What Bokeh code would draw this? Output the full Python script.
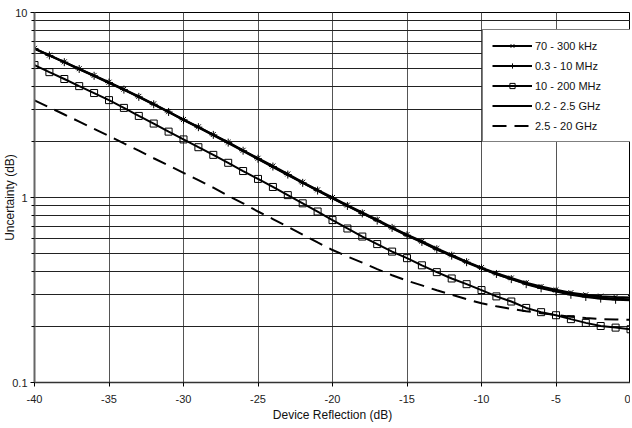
from bokeh.plotting import figure
from bokeh.models import FixedTicker, Legend, LegendItem
from bokeh.embed import file_html
from bokeh.resources import INLINE

# ---- data ----
reflection_db = list(range(-40, 1))  # device reflection, dB, 1 dB steps

khz_70_300 = [6.40, 5.88, 5.41, 4.97, 4.57, 4.20, 3.85, 3.52, 3.21, 2.91,
              2.64, 2.41, 2.19, 1.99, 1.80, 1.63, 1.48, 1.34, 1.21, 1.10,
              1.00, 0.91, 0.83, 0.76, 0.69, 0.63, 0.58, 0.53, 0.49, 0.45,
              0.418, 0.390, 0.367, 0.346, 0.330, 0.317, 0.306, 0.298, 0.293, 0.290,
              0.288]
mhz_03_10 = [6.38, 5.86, 5.39, 4.95, 4.55, 4.18, 3.83, 3.50, 3.19, 2.90,
             2.63, 2.40, 2.18, 1.98, 1.79, 1.62, 1.47, 1.33, 1.20, 1.09,
             0.99, 0.90, 0.82, 0.75, 0.685, 0.625, 0.575, 0.525, 0.485, 0.447,
             0.415, 0.386, 0.362, 0.340, 0.323, 0.310, 0.298, 0.290, 0.284, 0.280,
             0.278]
mhz_10_200 = [5.20, 4.76, 4.37, 4.00, 3.67, 3.36, 3.05, 2.76, 2.51, 2.27,
              2.06, 1.87, 1.70, 1.54, 1.39, 1.26, 1.14, 1.03, 0.93, 0.84,
              0.755, 0.68, 0.615, 0.56, 0.51, 0.47, 0.43, 0.395, 0.365, 0.34,
              0.316, 0.292, 0.274, 0.253, 0.240, 0.231, 0.220, 0.210, 0.202, 0.198,
              0.194]
ghz_02_25 = [6.36, 5.84, 5.37, 4.93, 4.53, 4.16, 3.82, 3.49, 3.18, 2.89,
             2.62, 2.39, 2.17, 1.97, 1.78, 1.61, 1.46, 1.32, 1.20, 1.09,
             0.99, 0.90, 0.82, 0.75, 0.682, 0.622, 0.572, 0.523, 0.483, 0.445,
             0.413, 0.385, 0.362, 0.342, 0.326, 0.313, 0.302, 0.294, 0.288, 0.284,
             0.282]
ghz_25_20 = [3.35, 3.07, 2.81, 2.57, 2.35, 2.15, 1.96, 1.79, 1.63, 1.49,
             1.36, 1.24, 1.13, 1.02, 0.93, 0.84, 0.765, 0.695, 0.63, 0.572,
             0.52, 0.48, 0.445, 0.41, 0.38, 0.355, 0.335, 0.315, 0.298, 0.282,
             0.268, 0.258, 0.250, 0.243, 0.237, 0.232, 0.227, 0.223, 0.220, 0.219,
             0.218]

x_ticks = [-40, -35, -30, -25, -20, -15, -10, -5, 0]
x_labels = ["-40", "-35", "-30", "-25", "-20", "-15", "-10", "-5", "0"]
y_major = [0.1, 1, 10]
y_minor = [0.2, 0.3, 0.4, 0.5, 0.6, 0.7, 0.8, 0.9, 2, 3, 4, 5, 6, 7, 8, 9]
y_labels = ["0.1", "1", "10"]

FONT = "Liberation Sans"

p = figure(frame_width=596, frame_height=370, y_axis_type="log",
           x_range=(-40, 0), y_range=(0.1, 10),
           output_backend="svg", toolbar_location=None,
           background_fill_color="white", border_fill_color="white",
           min_border=0, min_border_top=12, min_border_right=0)

p.outline_line_color = "black"
p.outline_line_width = 1

# axes
p.xaxis.ticker = FixedTicker(ticks=x_ticks)
p.xaxis.major_label_overrides = dict(zip(x_ticks, x_labels))
p.yaxis.ticker = FixedTicker(ticks=y_major, minor_ticks=y_minor)
p.yaxis.major_label_overrides = dict(zip(y_major, y_labels))
p.xaxis.axis_label = "Device Reflection (dB)"
p.yaxis.axis_label = "Uncertainty (dB)"
for ax in (p.xaxis, p.yaxis):
    ax.axis_label_text_font = FONT
    ax.axis_label_text_font_style = "normal"
    ax.axis_label_text_font_size = "12px"
    ax.axis_label_text_color = "#111"
    ax.major_label_text_font = FONT
    ax.major_label_text_font_size = "11px"
    ax.major_label_text_color = "#222"
    ax.major_tick_in = 0
    ax.major_tick_out = 4
    ax.major_label_standoff = 3
p.xaxis.major_label_standoff = 8
p.xaxis.minor_tick_line_color = None
p.xaxis.axis_label_standoff = 2
p.yaxis.axis_label_standoff = -8
p.yaxis.minor_tick_in = 0
p.yaxis.minor_tick_out = 3
p.yaxis.axis_line_color = "#666"
p.yaxis.axis_line_width = 2
p.xaxis.axis_line_color = "#333"
p.xaxis.axis_line_width = 1.5

# grid
p.xgrid.grid_line_color = "#555"
p.xgrid.grid_line_width = 1
p.ygrid.grid_line_color = "#222"
p.ygrid.grid_line_width = 1
p.ygrid.minor_grid_line_color = "#222"
p.ygrid.minor_grid_line_width = 1

# series
r_a = p.line(reflection_db, khz_70_300, line_color="black", line_width=2)
m_a = p.scatter(reflection_db, khz_70_300, marker="x", size=7,
                line_color="black", line_width=1)
r_b = p.line(reflection_db, mhz_03_10, line_color="black", line_width=2)
m_b = p.scatter(reflection_db, mhz_03_10, marker="cross", size=8,
                line_color="black", line_width=1)
r_c = p.line(reflection_db, mhz_10_200, line_color="black", line_width=2)
m_c = p.scatter(reflection_db, mhz_10_200, marker="square", size=7,
                line_color="black", line_width=1, fill_color=None)
r_d = p.line(reflection_db, ghz_02_25, line_color="black", line_width=2)
r_e = p.line(reflection_db, ghz_25_20, line_color="black", line_width=2,
             line_dash="14 8")

legend = Legend(items=[
    LegendItem(label="70 - 300 kHz", renderers=[r_a, m_a]),
    LegendItem(label="0.3 - 10 MHz", renderers=[r_b, m_b]),
    LegendItem(label="10 - 200 MHz", renderers=[r_c, m_c]),
    LegendItem(label="0.2 - 2.5 GHz", renderers=[r_d]),
    LegendItem(label="2.5 - 20 GHz", renderers=[r_e]),
], location=(448, 240))
legend.label_text_font = FONT
legend.label_text_font_size = "11px"
legend.label_text_color = "#111"
legend.glyph_width = 40
legend.glyph_height = 13
legend.label_height = 13
legend.label_width = 96
legend.label_standoff = 3
legend.spacing = 7
legend.padding = 9
legend.margin = 0
legend.border_line_color = "black"
legend.border_line_width = 1
legend.background_fill_color = "white"
legend.background_fill_alpha = 1
p.add_layout(legend, "center")

open("out.html", "w").write(file_html(p, INLINE))
